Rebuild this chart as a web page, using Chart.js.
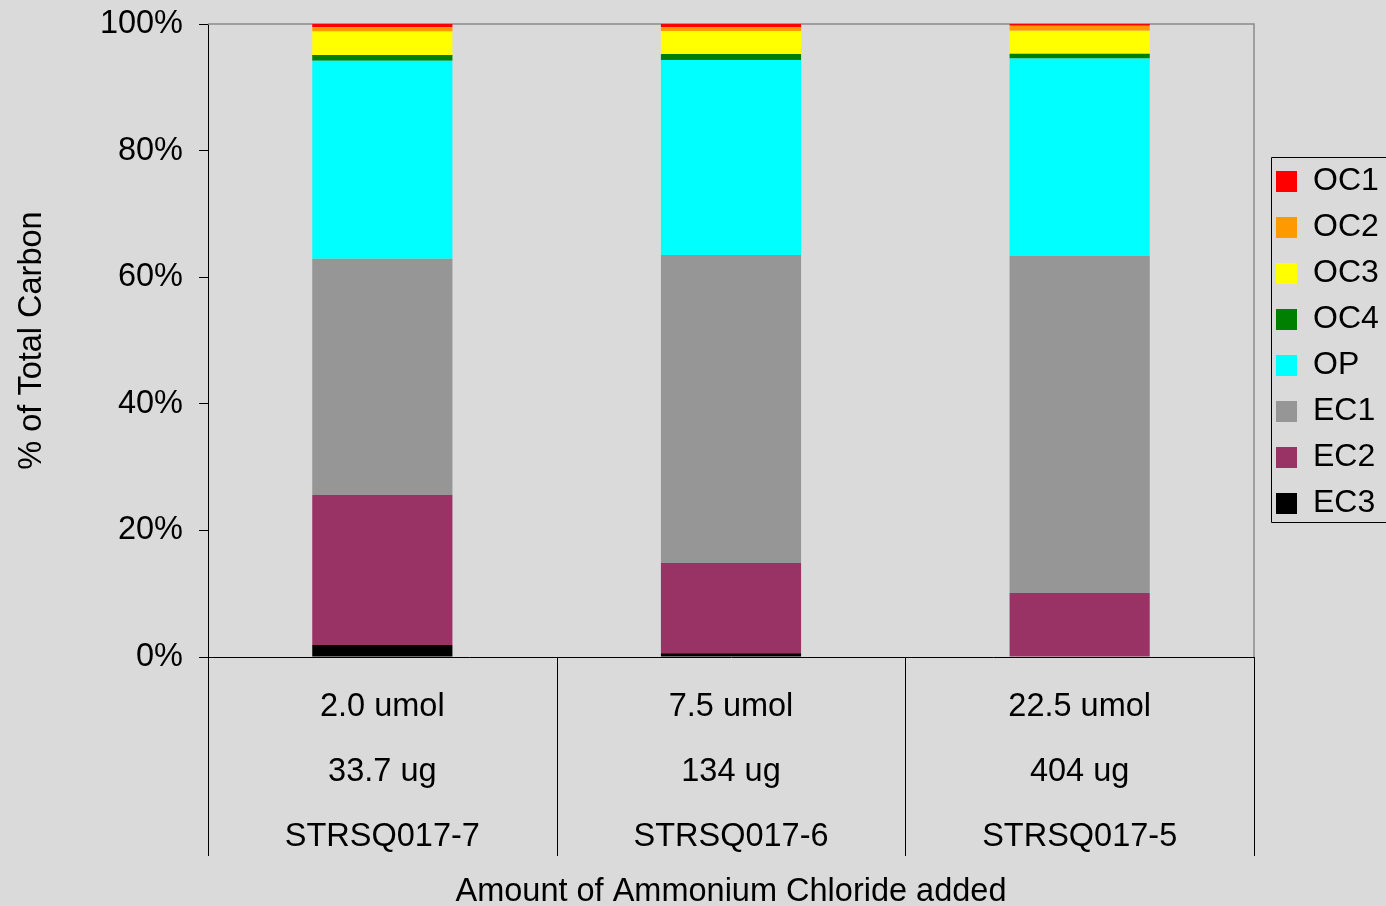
<!DOCTYPE html>
<html>
<head>
<meta charset="utf-8">
<script src="https://cdn.jsdelivr.net/npm/chart.js@4/dist/chart.umd.min.js"></script>
<style>
  html, body { margin: 0; padding: 0; background: #dadada; }
  #wrap { width: 1386px; height: 906px; position: relative; }
  canvas { display: block; }
</style>
</head>
<body>
<div id="wrap"><canvas id="c" width="1386" height="906"></canvas></div>
<script>
// ---- data (bottom of stack first) ----
const categories = [
  ["2.0 umol", "33.7 ug", "STRSQ017-7"],
  ["7.5 umol", "134 ug", "STRSQ017-6"],
  ["22.5 umol", "404 ug", "STRSQ017-5"]
];
const EC3 = [1.9, 0.6, 0.0];
const EC2 = [23.7, 14.25, 10.1];
const EC1 = [37.3, 48.65, 53.25];
const OP  = [31.3, 30.8, 31.2];
const OC4 = [0.9, 0.95, 0.74];
const OC3 = [3.7, 3.63, 3.63];
const OC2 = [0.7, 0.63, 0.8];
const OC1 = [0.5, 0.5, 0.3];
const yTicks = [0, 20, 40, 60, 80, 100];
const xTitle = "Amount of Ammonium Chloride added";
const yTitle = "% of Total Carbon";

const FONT = "'Liberation Sans', Arial, sans-serif";

const series = [
  { label: "EC3", data: EC3, color: "#000000" },
  { label: "EC2", data: EC2, color: "#993366" },
  { label: "EC1", data: EC1, color: "#969696" },
  { label: "OP",  data: OP,  color: "#00FFFF" },
  { label: "OC4", data: OC4, color: "#008000" },
  { label: "OC3", data: OC3, color: "#FFFF00" },
  { label: "OC2", data: OC2, color: "#FF9900" },
  { label: "OC1", data: OC1, color: "#FF0000" }
];

const layoutPlugin = {
  id: "layoutTweaks",
  beforeLayout(chart) {
    const lg = chart.legend;
    if (lg && !lg._fitWrapped) {
      const orig = lg.fit;
      lg.fit = function () { orig.call(this); this.width = 132; };
      lg._fitWrapped = true;
    }
  },
  afterLayout(chart) {
    const lg = chart.legend;
    if (!lg) return;
    const w = lg.right - lg.left;
    lg.left = 1262; lg.right = lg.left + w;
    lg.top += 2; lg.bottom += 2;
  },
  beforeDatasetsDraw(chart) {
    const ca = chart.chartArea;
    const ctx = chart.ctx;
    ctx.save();
    ctx.strokeStyle = "#8a8a8a";
    ctx.lineWidth = 1.5;
    ctx.beginPath();
    ctx.moveTo(ca.left, ca.top);
    ctx.lineTo(ca.right, ca.top);
    ctx.lineTo(ca.right, ca.bottom);
    ctx.stroke();
    ctx.restore();
  },
  afterDraw(chart) {
    const ctx = chart.ctx;
    const ca = chart.chartArea;
    const xs = chart.scales.x;
    const n = xs.ticks.length;
    const pts = [ca.left];
    for (let i = 0; i < n - 1; i++) pts.push((xs.getPixelForTick(i) + xs.getPixelForTick(i + 1)) / 2);
    pts.push(ca.right);
    ctx.save();
    ctx.strokeStyle = "#000000";
    ctx.lineWidth = 1;
    ctx.beginPath();
    for (const p of pts) {
      const x = Math.round(p) + 0.5;
      ctx.moveTo(x, ca.bottom);
      ctx.lineTo(x, ca.bottom + 199);
    }
    ctx.stroke();
    // legend frame
    ctx.beginPath();
    ctx.rect(1271.5, 157.5, 130, 365);
    ctx.stroke();
    ctx.restore();
  }
};

new Chart(document.getElementById("c"), {
  type: "bar",
  data: {
    labels: categories,
    datasets: series.map(s => ({
      label: s.label,
      data: s.data,
      backgroundColor: s.color,
      borderColor: s.color,
      borderWidth: 0,
      barPercentage: 0.402,
      categoryPercentage: 1.0
    }))
  },
  options: {
    responsive: false,
    animation: false,
    devicePixelRatio: 1,
    layout: { padding: { top: 24, left: 0, right: 0, bottom: 0 } },
    plugins: {
      tooltip: { enabled: false },
      legend: {
        position: "right",
        fullSize: false,
        reverse: true,
        labels: {
          font: { family: FONT, size: 32 },
          color: "#000000",
          boxWidth: 21,
          boxHeight: 21,
          padding: 14
        }
      }
    },
    scales: {
      x: {
        stacked: true,
        offset: true,
        grid: { display: false, drawTicks: false, drawOnChartArea: false },
        border: { display: true, color: "#000000", width: 1 },
        ticks: {
          color: "#000000",
          font: { family: FONT, size: 32.5, lineHeight: 2.0 },
          padding: 18,
          maxRotation: 0,
          autoSkip: false
        },
        title: {
          display: true,
          text: xTitle,
          color: "#000000",
          font: { family: FONT, size: 32.5 },
          padding: { top: 0, bottom: -6 }
        },
        afterFit(scale) { scale.height = 249; scale.paddingLeft = 0; scale.paddingRight = 0; }
      },
      y: {
        stacked: true,
        min: 0,
        max: 100,
        afterBuildTicks(scale) { scale.ticks = yTicks.map(v => ({ value: v })); },
        grid: { display: true, drawOnChartArea: false, drawTicks: true, tickLength: 9, color: "#000000" },
        border: { display: true, color: "#000000", width: 1 },
        ticks: {
          color: "#000000",
          font: { family: FONT, size: 32.5 },
          padding: 16,
          callback: v => v + "%"
        },
        title: {
          display: true,
          text: yTitle,
          color: "#000000",
          font: { family: FONT, size: 32.5 },
          padding: { top: 13, bottom: 0 }
        },
        afterFit(scale) { scale.width = 208; scale.paddingTop = 0; scale.paddingBottom = 0; }
      }
    }
  },
  plugins: [layoutPlugin]
});
</script>
</body>
</html>
